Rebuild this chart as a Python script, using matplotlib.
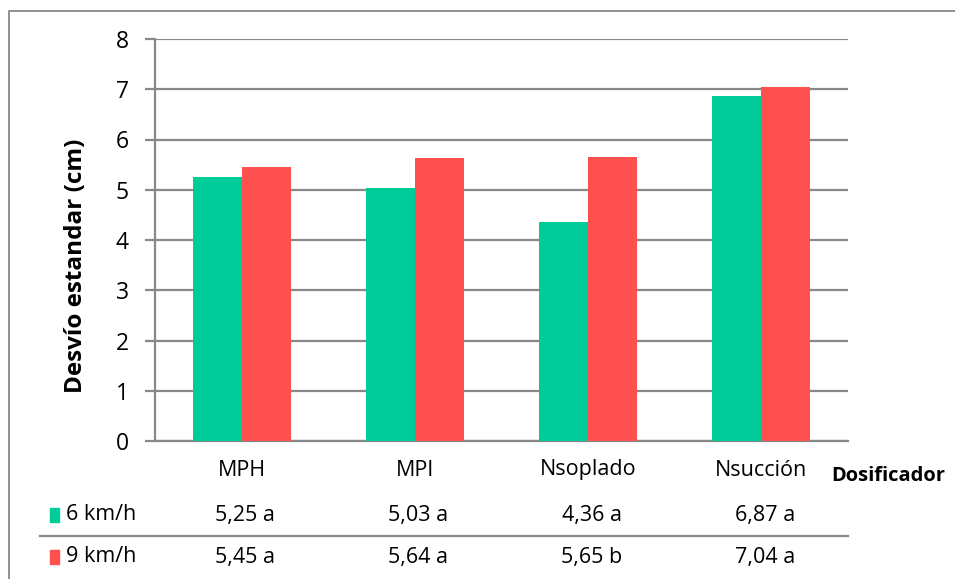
import numpy as np
import matplotlib.pyplot as plt
import matplotlib.transforms as mtransforms
from matplotlib.lines import Line2D
from matplotlib.patches import Rectangle

plt.rcParams['font.family'] = ['Open Sans', 'DejaVu Sans']

dosificadores = ["MPH", "MPI", "Nsoplado", "Nsucción"]
v6 = [5.25, 5.03, 4.36, 6.87]
v9 = [5.45, 5.64, 5.65, 7.04]
letras6 = ["a", "a", "a", "a"]
letras9 = ["a", "a", "b", "a"]
series = ["6 km/h", "9 km/h"]

verde = "#00CC99"
rojo = "#FF5050"
gris = "#888888"

W, H = 955, 579
fig = plt.figure(figsize=(W / 100, H / 100), dpi=100)
ax = fig.add_axes([155 / W, 1 - 441 / H, (848 - 155) / W, (441 - 39) / H])

x = np.arange(len(dosificadores))
bw = 0.283
ax.bar(x - bw / 2, v6, bw, color=verde, zorder=3)
ax.bar(x + bw / 2, v9, bw, color=rojo, zorder=3)

ax.set_xlim(-0.5, len(dosificadores) - 0.5)
ax.set_ylim(0, 8)
ax.set_yticks(range(0, 9))
ax.yaxis.grid(True, color=gris, linewidth=1.6, zorder=0)
ax.set_xticks([])
for s in ["top", "right"]:
    ax.spines[s].set_visible(False)
for s in ["left", "bottom"]:
    ax.spines[s].set_color(gris)
    ax.spines[s].set_linewidth(1.6)
ax.tick_params(axis="y", length=7, width=1.6, color=gris, labelsize=16.5, pad=12)
ax.set_ylabel("Desvío estandar (cm)", fontsize=17.5, fontweight="bold")
ax.yaxis.set_label_coords(-0.097, 0.435)

# tabla de datos debajo del gráfico
tr = mtransforms.blended_transform_factory(ax.transData, fig.transFigure)
fy = lambda py: 1 - py / H
for i, d in enumerate(dosificadores):
    fig.text(i, fy(470), d, transform=tr, ha="center", va="center", fontsize=15.5)
    fig.text(i + 0.02, fy(515), f"{v6[i]:.2f}".replace(".", ",") + " " + letras6[i],
             transform=tr, ha="center", va="center", fontsize=15.5)
    fig.text(i + 0.02, fy(557), f"{v9[i]:.2f}".replace(".", ",") + " " + letras9[i],
             transform=tr, ha="center", va="center", fontsize=15.5)
fig.text(888 / W, fy(476), "Dosificador", ha="center", va="center",
         fontsize=14.5, fontweight="bold")

for py, col, lab in [(515, verde, series[0]), (557, rojo, series[1])]:
    fig.patches.append(Rectangle((50 / W, fy(py + 7)), 9 / W, 14 / H,
                                 transform=fig.transFigure, color=col))
    fig.text(66 / W, fy(py), lab, ha="left", va="center", fontsize=15.5)

fig.lines.append(Line2D([40 / W, 848 / W], [fy(536), fy(536)],
                        transform=fig.transFigure, color=gris, linewidth=1.6))

# marco exterior
fig.lines.append(Line2D([9 / W, 9 / W, 1], [0, fy(11), fy(11)],
                        transform=fig.transFigure, color=gris, linewidth=1.3))

plt.savefig("out.png", dpi=100)
